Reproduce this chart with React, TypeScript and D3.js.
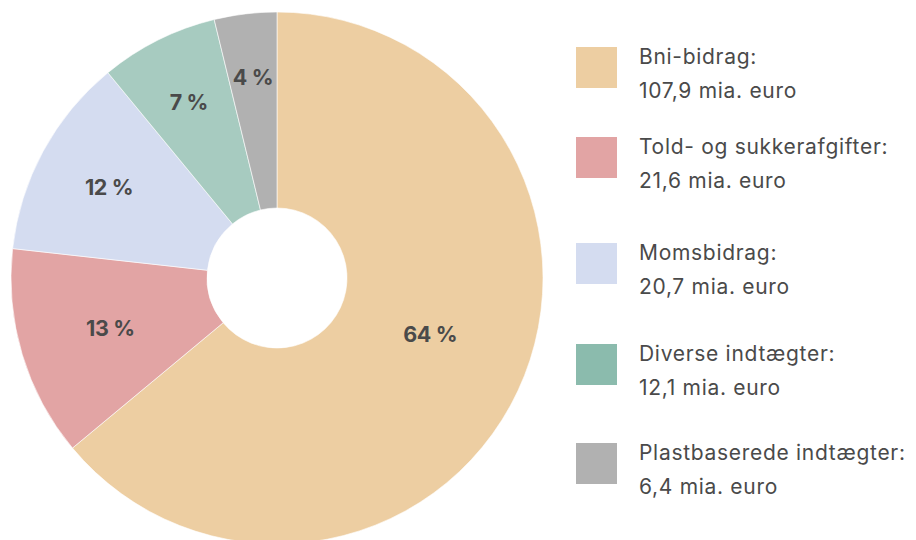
import React from 'react'
import * as d3 from 'd3'

const categories = ['Bni-bidrag:', 'Told- og sukkerafgifter:', 'Momsbidrag:', 'Diverse indtægter:', 'Plastbaserede indtægter:']
const amounts = [107.9, 21.6, 20.7, 12.1, 6.4]
const amountLabels = ['107,9 mia. euro', '21,6 mia. euro', '20,7 mia. euro', '12,1 mia. euro', '6,4 mia. euro']
const percentLabels = ['64 %', '13 %', '12 %', '7 %', '4 %']

const sliceColors = ['#EDCEA2', '#E2A4A4', '#D4DCF0', '#A7CBC0', '#B1B1B1']
const legendColors = ['#EDCEA2', '#E2A4A4', '#D4DCF0', '#8BBBAD', '#B1B1B1']
// small slices get their labels pushed outward
const labelRadius = [163, 174, 191, 197, 202]
const labelAngleShift = [-5.2, 0, 0, 0, 0]
const legendTops = [47, 137, 243, 344, 443]

const W = 916
const H = 540
const cx = 277
const cy = 278
const outerR = 266
const innerR = 70

export default function App() {
  const pie = d3.pie<number>().sort(null).value(d => d)
  const arcs = pie(amounts)
  const arc = d3.arc<d3.PieArcDatum<number>>().innerRadius(innerR).outerRadius(outerR)

  const font = 'Inter, "Noto Sans", sans-serif'

  return (
    <svg width={W} height={H} style={{ position: 'absolute', left: 0, top: 0 }}>
      <g transform={`translate(${cx},${cy})`}>
        {arcs.map((d, i) => (
          <path key={i} d={arc(d) || ''} fill={sliceColors[i]} stroke="#fff" strokeWidth={0.6} />
        ))}
        {arcs.map((d, i) => {
          const a = (d.startAngle + d.endAngle) / 2 + (labelAngleShift[i] * Math.PI) / 180
          const r = labelRadius[i]
          return (
            <text
              key={'l' + i}
              x={Math.sin(a) * r}
              y={-Math.cos(a) * r}
              textAnchor="middle"
              dominantBaseline="central"
              fontFamily={font}
              fontWeight={700}
              fontSize={21.5}
              fill="#4a4a4a"
              letterSpacing={-0.4}
            >
              {percentLabels[i]}
            </text>
          )
        })}
      </g>
      {categories.map((c, i) => (
        <g key={'g' + i} transform={`translate(576,${legendTops[i]})`}>
          <rect width={41} height={41} fill={legendColors[i]} />
          <text x={63} y={17} fontFamily={font} fontSize={21} letterSpacing={0.7} fill="#4a4a4a">{c}</text>
          <text x={63} y={51} fontFamily={font} fontSize={21} letterSpacing={0.7} fill="#4a4a4a">{amountLabels[i]}</text>
        </g>
      ))}
    </svg>
  )
}
